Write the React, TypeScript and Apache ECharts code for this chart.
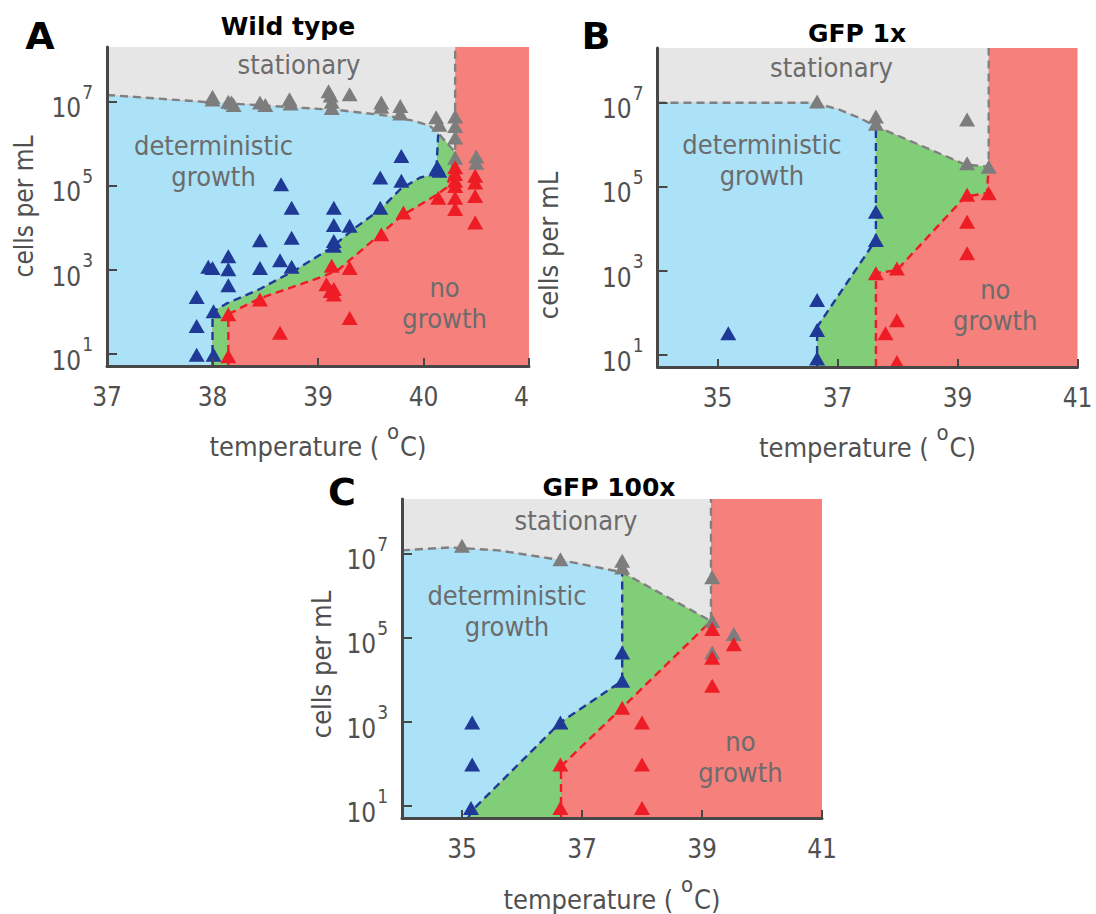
import { useEffect, useRef } from 'react';
import * as echarts from 'echarts';

type Pt = [number, number];

const FONT = "'DejaVu Sans Condensed', 'DejaVu Sans', sans-serif";
const BOLD_FONT = "'DejaVu Sans', sans-serif";

const C_STAT = '#e6e6e6';
const C_DET = '#abe2f7';
const C_GREEN = '#80ce78';
const C_NOGROW = '#f5807c';
const C_GRAY_MK = '#7d7d7d';
const C_BLUE_MK = '#1f3996';
const C_RED_MK = '#ee1c24';
const C_AXIS = '#474747';
const C_AXIS_TEXT = '#505050';
const C_REGION_TEXT = '#6c6c6c';

const Y_MIN = 0.72;
const Y_MAX = 8.3;
const Y_TICKS = [1, 3, 5, 7];
const REGION_LABELS = ['stationary', 'deterministic\ngrowth', 'no\ngrowth'];
const TITLES = ['Wild type', 'GFP 1x', 'GFP 100x'];
const LETTERS = ['A', 'B', 'C'];

// ---------------- Panel A: Wild type (x = temperature, y = log10 cells per mL)
const A_X_RANGE: Pt = [37, 41];
const A_X_TICKS = [37, 38, 39, 40, 41];
const A_X_LABELS = ['37', '38', '39', '40', '4'];
const A_RED_EDGE = 40.3;
const A_STATIONARY: Pt[] = [[37, 7.16], [37.9, 7.0], [39.2, 6.8], [39.65, 6.67], [39.9, 6.55], [40.06, 6.43], [40.14, 6.25], [40.3, 5.8]];
const A_BLUE: Pt[] = [[38.0, 0.72], [38.0, 2.0], [38.13, 2.2], [38.45, 2.55], [38.8, 3.02], [39.12, 3.52], [39.35, 4.0], [39.59, 4.44], [39.78, 4.92], [39.97, 5.2], [40.12, 5.28], [40.14, 6.25]];
const A_RED: Pt[] = [[38.15, 0.72], [38.15, 1.95], [38.25, 2.08], [38.45, 2.33], [39.05, 2.85], [39.2, 3.02], [39.59, 3.85], [39.8, 4.3], [40.1, 4.75], [40.22, 4.96], [40.26, 5.3], [40.3, 5.8]];
const A_GRAY_PTS: Pt[] = [[38.0, 7.12], [38.0, 7.05], [38.15, 7.0], [38.2, 6.92], [38.18, 6.98], [38.45, 6.98], [38.5, 6.92], [38.73, 7.06], [38.74, 6.96], [39.1, 7.25], [39.12, 7.15], [39.13, 7.0], [39.13, 6.85], [39.3, 7.18], [39.6, 6.98], [39.6, 6.88], [39.78, 6.9], [39.78, 6.72], [40.12, 6.63], [40.15, 6.45], [40.3, 6.65], [40.3, 6.42], [40.3, 6.15], [40.3, 5.67], [40.5, 5.7], [40.5, 5.55]];
const A_BLUE_PTS: Pt[] = [[37.85, 0.99], [38.01, 0.99], [37.85, 1.67], [37.85, 2.36], [38.01, 2.02], [38.0, 3.05], [37.96, 3.08], [38.15, 3.33], [38.15, 3.02], [38.15, 2.64], [38.45, 3.71], [38.45, 3.05], [38.65, 5.04], [38.75, 4.48], [38.75, 3.77], [38.64, 3.23], [38.75, 3.08], [39.15, 4.48], [39.15, 4.07], [39.15, 3.69], [39.15, 3.58], [39.3, 4.05], [39.59, 5.2], [39.79, 5.71], [39.79, 5.12], [39.59, 4.48], [40.15, 5.36], [40.13, 5.45]];
const A_RED_PTS: Pt[] = [[38.15, 1.95], [38.15, 0.95], [38.45, 2.3], [38.64, 1.51], [39.13, 3.1], [39.08, 2.66], [39.12, 2.5], [39.15, 2.42], [39.15, 2.55], [39.3, 3.05], [39.3, 1.86], [39.6, 3.85], [39.81, 4.37], [40.14, 4.72], [40.3, 5.44], [40.3, 5.28], [40.3, 5.12], [40.3, 4.72], [40.3, 4.45], [40.49, 5.24], [40.49, 5.08], [40.49, 4.76], [40.49, 4.13], [40.3, 5.0]];
const A_LABEL_POS: Pt[] = [[38.82, 7.88], [38.01, 5.6], [40.2, 2.21]];

// ---------------- Panel B: GFP 1x
const B_X_RANGE: Pt = [34, 41];
const B_X_TICKS = [35, 37, 39, 41];
const B_X_LABELS = ['35', '37', '39', '41'];
const B_RED_EDGE = 39.52;
const B_STATIONARY: Pt[] = [[34, 7.0], [36.6, 7.0], [37.0, 6.85], [37.35, 6.65], [37.64, 6.44], [39.13, 5.53], [39.52, 5.48]];
const B_BLUE: Pt[] = [[36.66, 0.72], [36.66, 1.67], [37.64, 3.74], [37.64, 6.44]];
const B_RED: Pt[] = [[37.64, 0.72], [37.64, 2.95], [37.99, 3.02], [39.13, 4.77], [39.49, 4.85], [39.52, 5.48]];
const B_GRAY_PTS: Pt[] = [[36.66, 7.03], [37.64, 6.67], [37.64, 6.5], [39.16, 6.6], [39.16, 5.56], [39.52, 5.48]];
const B_BLUE_PTS: Pt[] = [[35.18, 1.52], [36.66, 2.31], [36.66, 1.6], [36.66, 0.92], [37.64, 4.41], [37.64, 3.74]];
const B_RED_PTS: Pt[] = [[37.64, 2.95], [37.99, 3.06], [37.8, 1.52], [37.99, 1.83], [37.99, 0.84], [39.16, 4.81], [39.52, 4.85], [39.16, 4.17], [39.16, 3.42]];
const B_LABEL_POS: Pt[] = [[36.9, 7.83], [35.74, 5.64], [39.63, 2.19]];

// ---------------- Panel C: GFP 100x
const C_X_RANGE: Pt = [34, 41];
const C_X_TICKS = [35, 37, 39, 41];
const C_X_LABELS = ['35', '37', '39', '41'];
const C_RED_EDGE = 39.15;
const C_STATIONARY: Pt[] = [[34, 7.08], [34.8, 7.15], [35.6, 7.08], [36.64, 6.85], [37.67, 6.56], [39.15, 5.4]];
const C_BLUE: Pt[] = [[35.1, 0.72], [35.17, 0.9], [36.64, 2.99], [37.67, 3.98], [37.67, 6.56]];
const C_RED: Pt[] = [[36.65, 0.72], [36.65, 1.95], [37.67, 3.34], [39.15, 5.4]];
const C_GRAY_PTS: Pt[] = [[35.0, 7.19], [36.64, 6.87], [37.67, 6.83], [37.67, 6.67], [39.17, 6.44], [39.17, 5.4], [39.53, 5.09], [39.17, 4.65]];
const C_BLUE_PTS: Pt[] = [[35.17, 2.99], [35.17, 1.99], [35.15, 0.96], [36.64, 2.99], [37.67, 4.65], [37.67, 3.98]];
const C_RED_PTS: Pt[] = [[36.64, 1.99], [36.64, 0.96], [37.67, 3.34], [38.0, 2.99], [38.0, 1.99], [38.0, 0.96], [39.17, 5.21], [39.17, 4.53], [39.17, 3.86], [39.53, 4.85]];
const C_LABEL_POS: Pt[] = [[36.9, 7.8], [35.75, 5.64], [39.64, 2.18]];

const PANELS = [
  {
    grid: { left: 107, top: 47, width: 422, height: 319 },
    xRange: A_X_RANGE, xTicks: A_X_TICKS, xLabels: A_X_LABELS, redEdge: A_RED_EDGE,
    stationary: A_STATIONARY, blue: A_BLUE, red: A_RED,
    grayPts: A_GRAY_PTS, bluePts: A_BLUE_PTS, redPts: A_RED_PTS, labelPos: A_LABEL_POS,
    yNameGap: 70, yNameSize: 26, yNameShift: 0, xNameGap: 54,
  },
  {
    grid: { left: 657.5, top: 48, width: 420, height: 319 },
    xRange: B_X_RANGE, xTicks: B_X_TICKS, xLabels: B_X_LABELS, redEdge: B_RED_EDGE,
    stationary: B_STATIONARY, blue: B_BLUE, red: B_RED,
    grayPts: B_GRAY_PTS, bluePts: B_BLUE_PTS, redPts: B_RED_PTS, labelPos: B_LABEL_POS,
    yNameGap: 96, yNameSize: 27, yNameShift: 38, xNameGap: 54,
  },
  {
    grid: { left: 402, top: 499, width: 420, height: 319 },
    xRange: C_X_RANGE, xTicks: C_X_TICKS, xLabels: C_X_LABELS, redEdge: C_RED_EDGE,
    stationary: C_STATIONARY, blue: C_BLUE, red: C_RED,
    grayPts: C_GRAY_PTS, bluePts: C_BLUE_PTS, redPts: C_RED_PTS, labelPos: C_LABEL_POS,
    yNameGap: 67, yNameSize: 27, yNameShift: 6, xNameGap: 55,
  },
];

const TITLE_POS: Pt[] = [[288, 26], [857, 33], [609, 487]];
const LETTER_POS: Pt[] = [[40, 36], [596, 36], [342, 492]];

function polygonSeries(i: number, pts: Pt[], color: string, z: number) {
  return {
    type: 'custom', xAxisIndex: i, yAxisIndex: i, z, silent: true,
    data: pts,
    encode: { x: 0, y: 1 },
    renderItem: (params: any, api: any) => {
      if (params.dataIndex !== 0) return null;
      const points = pts.map((p) => api.coord(p));
      return { type: 'polygon', shape: { points }, style: { fill: color } };
    },
  };
}

function dashedLine(i: number, pts: Pt[], color: string) {
  return {
    type: 'line', xAxisIndex: i, yAxisIndex: i, z: 3, silent: true,
    data: pts, symbol: 'none', showSymbol: false,
    lineStyle: { color, width: 2.4, type: [8, 5] },
  };
}

function markers(i: number, pts: Pt[], color: string, z: number) {
  return {
    type: 'scatter', xAxisIndex: i, yAxisIndex: i, z, silent: true,
    data: pts, symbol: 'triangle', symbolSize: [16, 14],
    itemStyle: { color, opacity: 1 },
  };
}

function buildOption() {
  const grids: any[] = [];
  const xAxes: any[] = [];
  const yAxes: any[] = [];
  const series: any[] = [];
  PANELS.forEach((p, i) => {
    grids.push({ ...p.grid, containLabel: false });
    const [x0, x1] = p.xRange;
    const blueTop = p.blue[p.blue.length - 1];
    const fullRect: Pt[] = [[x0, Y_MIN], [x1, Y_MIN], [x1, Y_MAX], [x0, Y_MAX]];
    const grayRegion: Pt[] = [[x0, Y_MAX], [p.redEdge, Y_MAX], ...[...p.stationary].reverse()];
    const blueRegion: Pt[] = [[x0, Y_MIN], ...p.stationary.filter((q) => q[0] <= blueTop[0]), ...[...p.blue].reverse()];
    const greenRegion: Pt[] = [...p.blue, ...p.stationary.filter((q) => q[0] > blueTop[0]), ...[...p.red].reverse()];

    xAxes.push({
      type: 'value', gridIndex: i, min: x0, max: x1, z: 10,
      axisLine: { show: true, onZero: false, lineStyle: { color: C_AXIS, width: 3 } },
      axisTick: { show: true, inside: true, length: 8, customValues: p.xTicks, lineStyle: { color: C_AXIS, width: 2 } },
      splitLine: { show: false },
      axisLabel: {
        customValues: p.xTicks,
        margin: 18,
        color: C_AXIS_TEXT, fontSize: 26, fontFamily: FONT,
        formatter: (v: number) => {
          const k = p.xTicks.indexOf(v);
          const s = k >= 0 ? p.xLabels[k] : String(v);
          return s.length === 1 ? `{r|${s}}` : s;
        },
        rich: { r: { color: C_AXIS_TEXT, fontSize: 26, fontFamily: FONT, padding: [0, 15, 0, 0] } },
      },
      name: '{m|temperature ( }{sup|o}{m|C)}',
      nameLocation: 'middle',
      nameGap: p.xNameGap,
      nameTextStyle: {
        color: C_AXIS_TEXT, fontFamily: FONT, fontSize: 27,
        rich: {
          m: { color: C_AXIS_TEXT, fontFamily: FONT, fontSize: 27, verticalAlign: 'bottom' },
          sup: { color: C_AXIS_TEXT, fontFamily: FONT, fontSize: 22, verticalAlign: 'top', padding: [0, 1, 18, 0] },
        },
      },
    });
    yAxes.push({
      type: 'value', gridIndex: i, min: Y_MIN, max: Y_MAX, z: 10,
      axisLine: { show: true, onZero: false, lineStyle: { color: C_AXIS, width: 3 } },
      axisTick: { show: true, inside: true, length: 10, customValues: Y_TICKS, lineStyle: { color: C_AXIS, width: 2 } },
      splitLine: { show: false },
      axisLabel: {
        customValues: Y_TICKS,
        margin: 14,
        formatter: (v: number) => `{b|10}{s|${Math.round(v)}}`,
        rich: {
          b: { color: C_AXIS_TEXT, fontFamily: FONT, fontSize: 26, verticalAlign: 'bottom' },
          s: { color: C_AXIS_TEXT, fontFamily: FONT, fontSize: 19, verticalAlign: 'top', padding: [0, 0, 20, 1] },
        },
      },
      name: 'cells per mL',
      nameLocation: 'middle',
      nameRotate: 90,
      nameGap: p.yNameGap,
      nameTextStyle: {
        color: C_AXIS_TEXT, fontFamily: FONT, fontSize: p.yNameSize,
        padding: [0, p.yNameShift * 2, 0, 0],
      },
    });

    series.push(polygonSeries(i, fullRect, C_NOGROW, 1));
    series.push(polygonSeries(i, grayRegion, C_STAT, 1));
    series.push(polygonSeries(i, blueRegion, C_DET, 1));
    series.push(polygonSeries(i, greenRegion, C_GREEN, 1));
    series.push(dashedLine(i, [...p.stationary, [p.redEdge, Y_MAX]], '#808080'));
    series.push(dashedLine(i, p.blue, C_BLUE_MK));
    series.push(dashedLine(i, p.red, C_RED_MK));
    series.push(markers(i, p.grayPts, C_GRAY_MK, 4));
    series.push(markers(i, p.bluePts, C_BLUE_MK, 4));
    series.push(markers(i, p.redPts, C_RED_MK, 4));
    series.push({
      type: 'custom', xAxisIndex: i, yAxisIndex: i, z: 6, silent: true,
      data: p.labelPos,
      encode: { x: 0, y: 1 },
      renderItem: (params: any, api: any) => {
        const pt = api.coord([api.value(0), api.value(1)]);
        return {
          type: 'text', x: pt[0], y: pt[1],
          style: {
            text: REGION_LABELS[params.dataIndex], fill: C_REGION_TEXT,
            fontSize: 27, fontFamily: FONT, lineHeight: 31,
            align: 'center', verticalAlign: 'middle', textAlign: 'center', textVerticalAlign: 'middle',
          },
        };
      },
    });
  });

  const graphic: any[] = [];
  TITLES.forEach((t, i) => {
    graphic.push({
      type: 'text', x: TITLE_POS[i][0], y: TITLE_POS[i][1],
      style: { text: t, fill: '#000', fontSize: 25, fontWeight: 'bold', fontFamily: BOLD_FONT, align: 'center', verticalAlign: 'middle', textAlign: 'center', textVerticalAlign: 'middle' },
    });
    graphic.push({
      type: 'text', x: LETTER_POS[i][0], y: LETTER_POS[i][1],
      style: { text: LETTERS[i], fill: '#000', fontSize: 38, fontWeight: 'bold', fontFamily: BOLD_FONT, align: 'center', verticalAlign: 'middle', textAlign: 'center', textVerticalAlign: 'middle' },
    });
  });

  return {
    animation: false,
    backgroundColor: '#ffffff',
    grid: grids,
    xAxis: xAxes,
    yAxis: yAxes,
    series,
    graphic,
  };
}

export default function App() {
  const ref = useRef<HTMLDivElement>(null);
  useEffect(() => {
    if (!ref.current) return;
    const chart = echarts.init(ref.current, null, { renderer: 'svg' });
    chart.setOption(buildOption() as any);
    return () => chart.dispose();
  }, []);
  return <div ref={ref} style={{ position: 'absolute', left: 0, top: 0, width: 1096, height: 914, background: '#fff' }} />;
}
